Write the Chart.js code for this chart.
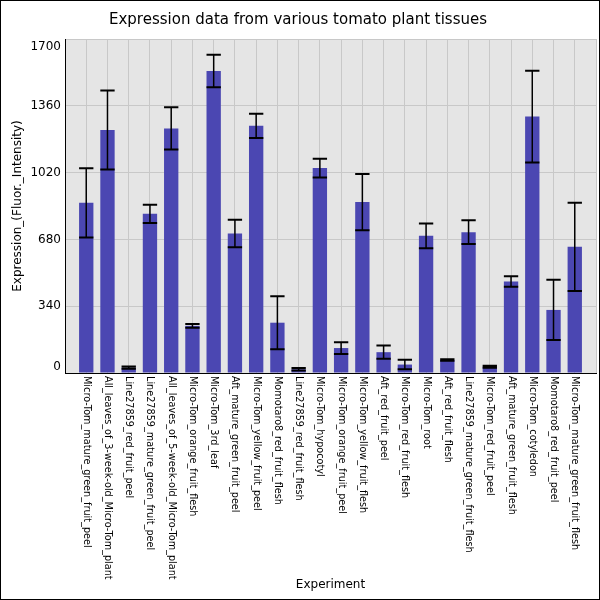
<!DOCTYPE html>
<html>
<head>
<meta charset="utf-8">
<script src="https://cdn.jsdelivr.net/npm/chart.js@4/dist/chart.umd.min.js"></script>
<style>
  html, body { margin: 0; padding: 0; background: #fff; }
  #wrap { width: 600px; height: 600px; }
</style>
</head>
<body>
<div id="wrap"><canvas id="chart" width="600" height="600"></canvas></div>
<script>
// ---- data ----
const experiments = [
    'Micro-Tom_mature_green_fruit_peel',
    'All_leaves_of_3-week-old_Micro-Tom_plant',
    'Line27859_red_fruit_peel',
    'Line27859_mature_green_fruit_peel',
    'All_leaves_of_5-week-old_Micro-Tom_plant',
    'Micro-Tom_orange_fruit_flesh',
    'Micro-Tom_3rd_leaf',
    'Aft_mature_green_fruit_peel',
    'Micro-Tom_yellow_fruit_peel',
    'Momotaro8_red_fruit_flesh',
    'Line27859_red_fruit_flesh',
    'Micro-Tom_hypocotyl',
    'Micro-Tom_orange_fruit_peel',
    'Micro-Tom_yellow_fruit_flesh',
    'Aft_red_fruit_peel',
    'Micro-Tom_red_fruit_flesh',
    'Micro-Tom_root',
    'Aft_red_fruit_flesh',
    'Line27859_mature_green_fruit_flesh',
    'Micro-Tom_red_fruit_peel',
    'Aft_mature_green_fruit_flesh',
    'Micro-Tom_cotyledon',
    'Momotaro8_red_fruit_peel',
    'Micro-Tom_mature_green_fruit_flesh'
];
const expression = [866, 1237, 27, 810, 1245, 240, 1537, 710, 1258, 256, 19, 1043,
                    127, 870, 106, 43, 698, 66, 717, 32, 466, 1305, 321, 642];
const errors = [176, 201, 6, 46, 108, 10, 83, 70, 62, 135, 6, 48,
                30, 143, 34, 24, 63, 4, 60, 5, 27, 233, 153, 225];
const yTicks = [0, 340, 680, 1020, 1360, 1700];

const FONT = "'DejaVu Sans', sans-serif";

// ---- custom drawing: panel bg, error bars, rotated labels, frame ----
const decor = {
    id: 'decor',
    beforeDraw(chart) {
        const { ctx, chartArea: a } = chart;
        ctx.save();
        ctx.fillStyle = '#ffffff';
        ctx.fillRect(0, 0, chart.width, chart.height);
        ctx.fillStyle = '#e5e5e5';
        ctx.fillRect(a.left, a.top, a.right - a.left, a.bottom - a.top);
        ctx.restore();
    },
    afterDatasetsDraw(chart) {
        const { ctx } = chart;
        const ys = chart.scales.y;
        const meta = chart.getDatasetMeta(0);
        ctx.save();
        ctx.strokeStyle = '#000';
        meta.data.forEach((bar, i) => {
            const half = bar.width / 2;
            const hi = ys.getPixelForValue(expression[i] + errors[i]);
            const lo = ys.getPixelForValue(Math.max(0, expression[i] - errors[i]));
            ctx.lineWidth = 1.5;
            ctx.beginPath();
            ctx.moveTo(bar.x, hi); ctx.lineTo(bar.x, lo);
            ctx.stroke();
            ctx.lineWidth = 2;
            ctx.beginPath();
            ctx.moveTo(bar.x - half, hi); ctx.lineTo(bar.x + half, hi);
            ctx.moveTo(bar.x - half, lo); ctx.lineTo(bar.x + half, lo);
            ctx.stroke();
        });
        ctx.restore();
    },
    afterDraw(chart) {
        const { ctx, chartArea: a } = chart;
        const xs = chart.scales.x, ys = chart.scales.y;
        ctx.save();
        ctx.fillStyle = '#000';

        // x tick labels, reading top to bottom
        ctx.font = '9.7px ' + FONT;
        ctx.textAlign = 'left';
        ctx.textBaseline = 'middle';
        experiments.forEach((name, i) => {
            ctx.save();
            ctx.translate(xs.getPixelForValue(i), a.bottom + 3);
            ctx.rotate(Math.PI / 2);
            ctx.fillText(name, 0, 0);
            ctx.restore();
        });

        // y tick labels, nudged inside the panel at the ends
        ctx.font = '12px ' + FONT;
        ctx.textAlign = 'right';
        yTicks.forEach(v => {
            let y = ys.getPixelForValue(v);
            y = Math.min(Math.max(y, a.top + 8), a.bottom - 6);
            ctx.fillText(String(v), a.left - 4, y);
        });

        // axis titles
        ctx.font = '12px ' + FONT;
        ctx.textAlign = 'center';
        ctx.fillText('Experiment', (a.left + a.right) / 2, 585);
        ctx.save();
        ctx.translate(18, (a.top + a.bottom) / 2);
        ctx.rotate(-Math.PI / 2);
        ctx.fillText('Expression_(Fluor._Intensity)', 0, 0);
        ctx.restore();

        // outer frame
        ctx.strokeStyle = '#000';
        ctx.lineWidth = 1;
        ctx.strokeRect(0.5, 0.5, chart.width - 1, chart.height - 1);
        ctx.restore();
    }
};

new Chart(document.getElementById('chart'), {
    type: 'bar',
    data: {
        datasets: [{
            data: expression.map((v, i) => ({ x: i, y: v })),
            backgroundColor: '#4b47b2',
            borderWidth: 0,
            barPercentage: 0.675,
            categoryPercentage: 1
        }]
    },
    options: {
        responsive: false,
        animation: false,
        events: [],
        layout: { padding: { left: 0, right: 4, top: 0, bottom: 0 } },
        plugins: {
            legend: { display: false },
            tooltip: { enabled: false },
            title: {
                display: true,
                text: 'Expression data from various tomato plant tissues',
                color: '#000',
                font: { family: FONT, size: 15, weight: 'normal' },
                padding: { top: 11.5, bottom: 9.5 }
            }
        },
        scales: {
            x: {
                type: 'linear',
                offset: false,
                min: -1,
                max: experiments.length,
                afterBuildTicks(scale) {
                    scale.ticks = [];
                    for (let i = -1; i <= experiments.length; i++) scale.ticks.push({ value: i });
                },
                afterFit(scale) { scale.height = 227; },
                ticks: { display: false },
                grid: { color: '#c8c8c8', lineWidth: 1, drawTicks: false, offset: false },
                border: { color: '#000', width: 1 }
            },
            y: {
                min: 0,
                max: 1700,
                afterBuildTicks(scale) {
                    scale.ticks = yTicks.map(v => ({ value: v }));
                },
                afterFit(scale) { scale.width = 65; },
                ticks: { display: false },
                grid: { color: '#c8c8c8', lineWidth: 1, drawTicks: false },
                border: { color: '#000', width: 1 }
            }
        }
    },
    plugins: [decor]
});
</script>
</body>
</html>
